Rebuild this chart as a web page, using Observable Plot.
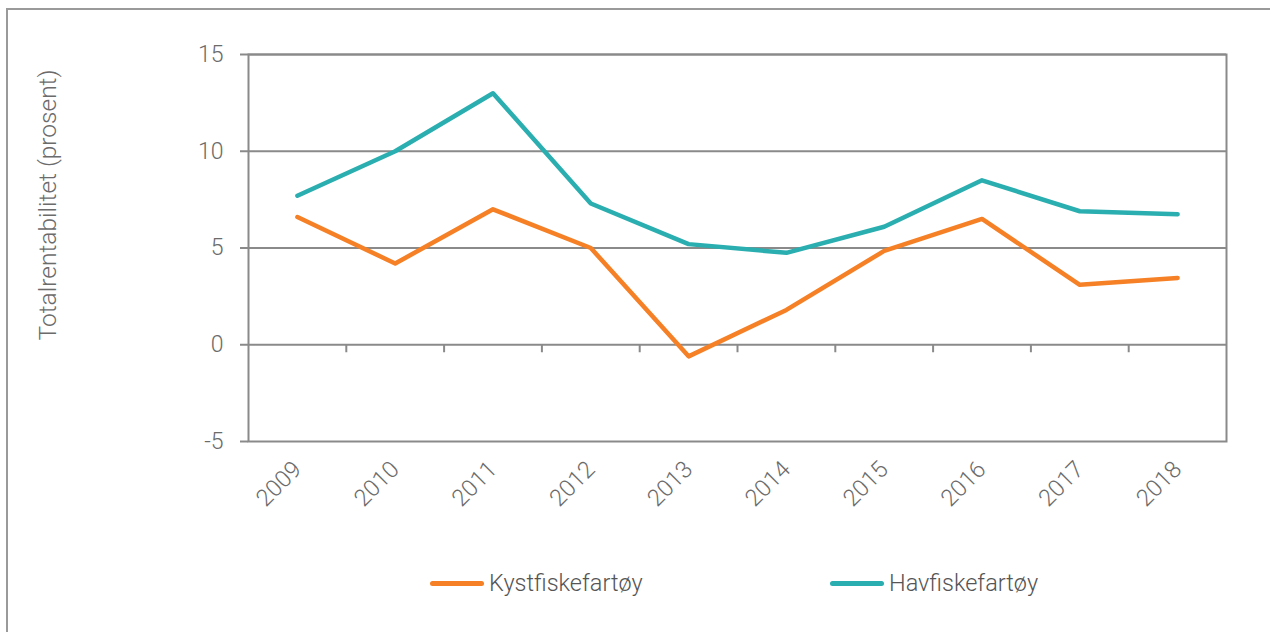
<!DOCTYPE html>
<html>
<head>
<meta charset="utf-8">
<script src="https://cdn.jsdelivr.net/npm/d3@7"></script>
<script src="https://cdn.jsdelivr.net/npm/@observablehq/plot@0.6"></script>
<style>
  html, body { margin: 0; padding: 0; background: #fff; overflow: hidden; }
  #wrap { position: relative; width: 1270px; height: 632px; font-family: Roboto, "Open Sans", sans-serif; }
  #border { position: absolute; left: 6px; top: 8px; width: 1400px; height: 800px; border-left: 2px solid #9a9a9a; border-top: 2px solid #9a9a9a; }
  #chart { position: absolute; left: 0; top: 0; }
  #legend { position: absolute; left: 0; top: 566px; width: 1270px; height: 34px; }
  .item { position: absolute; top: 0; display: flex; align-items: center; height: 34px; font-size: 23.5px; font-weight: 300; color: #555; }
  .sw { display: inline-block; width: 54px; height: 5px; border-radius: 3px; margin-right: 5px; }
</style>
</head>
<body>
<div id="wrap">
  <div id="border"></div>
  <div id="chart"></div>
  <div id="legend"></div>
</div>
<script>
const years = [2009, 2010, 2011, 2012, 2013, 2014, 2015, 2016, 2017, 2018];
const kystfiske = [6.6, 4.2, 7.0, 5.0, -0.6, 1.8, 4.85, 6.5, 3.1, 3.45];
const havfiske = [7.7, 10.0, 13.0, 7.3, 5.2, 4.75, 6.1, 8.5, 6.9, 6.75];
const seriesNames = ["Kystfiskefartøy", "Havfiskefartøy"];
const seriesColors = ["#F58025", "#2AAEB0"];
const yTicks = [-5, 0, 5, 10, 15];
const gridTicks = [0, 5, 10, 15];
const yLabel = "Totalrentabilitet (prosent)";

const rows = [];
years.forEach((yr, i) => {
  rows.push({year: yr, value: kystfiske[i], series: seriesNames[0]});
  rows.push({year: yr, value: havfiske[i], series: seriesNames[1]});
});
const boundaries = years.slice(0, -1).map(y => y + 0.5);

const gray = "#8a8a8a";
const textGray = "#6b6b6b";

const chart = Plot.plot({
  width: 1270,
  height: 540,
  marginLeft: 248,
  marginRight: 44,
  marginTop: 54,
  marginBottom: 99,
  style: {fontFamily: "Roboto, 'Open Sans', sans-serif", fontWeight: 300, background: "transparent"},
  x: {type: "linear", domain: [years[0] - 0.5, years[years.length - 1] + 0.5]},
  y: {domain: [-5, 15]},
  color: {domain: seriesNames, range: seriesColors},
  marks: [
    Plot.gridY(gridTicks, {stroke: gray, strokeOpacity: 1, strokeWidth: 2}),
    Plot.ruleX(boundaries, {y1: 0, y2: 0, insetBottom: -8, stroke: gray, strokeWidth: 2}),
    Plot.frame({stroke: gray, strokeWidth: 2}),
    Plot.axisY(yTicks, {tickSize: 8, tickPadding: 17, stroke: gray, strokeWidth: 2, fill: textGray, fontSize: 23, label: null, tickFormat: d => String(d)}),
    Plot.axisX(years, {tickSize: 0, tickPadding: 24, tickRotate: -45, fill: textGray, fontSize: 23.5, label: null, tickFormat: d => String(d)}),
    Plot.text([yLabel], {frameAnchor: "left", textAnchor: "middle", dx: -200, dy: -43, rotate: -90, fill: textGray, fontSize: 24.5, fontWeight: 300}),
    Plot.line(rows, {x: "year", y: "value", z: "series", stroke: "series", strokeWidth: 4.5, strokeLinecap: "round", strokeLinejoin: "round"})
  ]
});
document.getElementById("chart").appendChild(chart);

const legend = document.getElementById("legend");
const lefts = [430, 830];
seriesNames.forEach((name, i) => {
  const item = document.createElement("div");
  item.className = "item";
  item.style.left = lefts[i] + "px";
  const sw = document.createElement("span");
  sw.className = "sw";
  sw.style.background = seriesColors[i];
  item.appendChild(sw);
  item.appendChild(document.createTextNode(name));
  legend.appendChild(item);
});
</script>
</body>
</html>
